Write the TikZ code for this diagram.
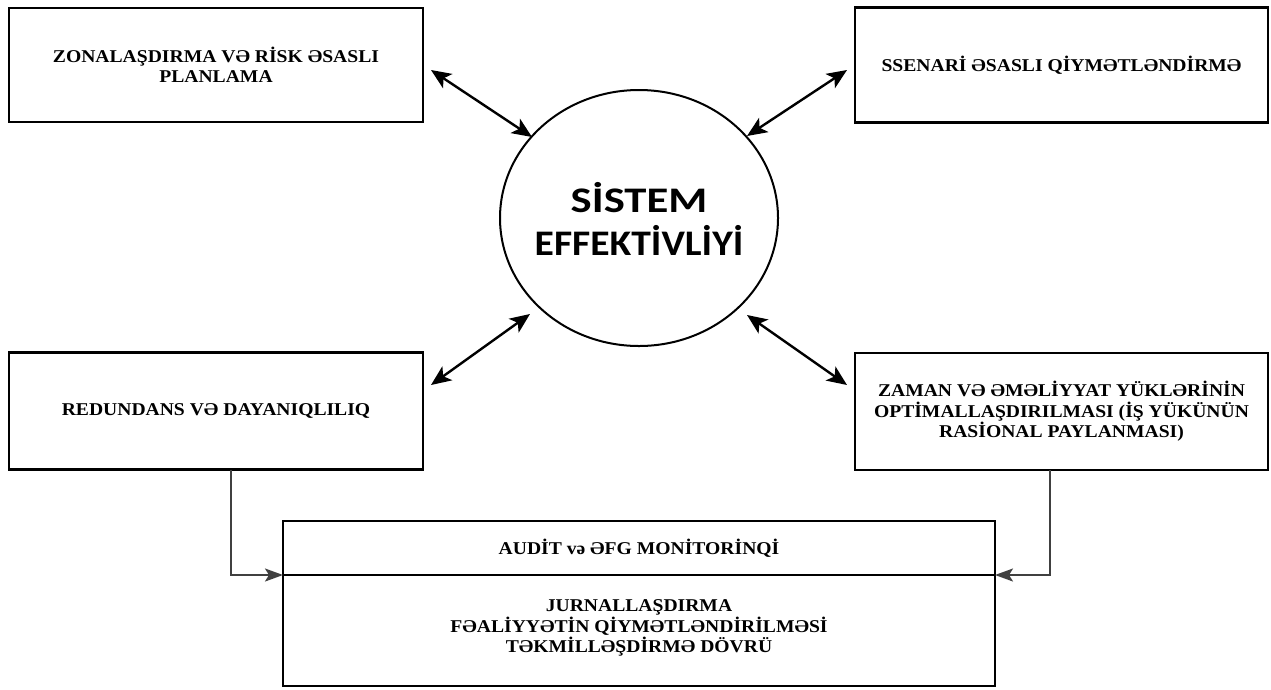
\documentclass[tikz,border=0pt]{standalone}
\usepackage{fontspec}
\newfontfamily\boxfont[FakeStretch=1.09]{Liberation Serif}
\newfontfamily\circfonta[FakeStretch=1.24]{Carlito}
\newfontfamily\circfontb[FakeStretch=1.1]{Carlito}
\usetikzlibrary{arrows.meta,shapes.geometric,calc}
\tikzset{
  box/.style={draw, line width=2.6pt, align=center, inner sep=0pt, outer sep=0pt,
    font=\boxfont\bfseries\fontsize{18}{20.5}\selectfont},
  dbl/.style={line width=2.4pt, {Stealth[length=20pt,width=17pt,inset=5pt]}-{Stealth[length=20pt,width=17pt,inset=5pt]}},
  conn/.style={draw=black!75, line width=2pt, -{Stealth[length=18pt,width=13pt,inset=4pt]}},
}
\begin{document}
\begin{tikzpicture}[x=1pt,y=-1pt]
\useasboundingbox[fill=white] (0,0) rectangle (1271,689);
\node[box, minimum width=414, minimum height=114] (tl) at (216,65) {ZONALAŞDIRMA VƏ RİSK ƏSASLI\\PLANLAMA};
\node[box, minimum width=413, minimum height=115] (tr) at (1061.5,65) {SSENARİ ƏSASLI QİYMƏTLƏNDİRMƏ};
\node[box, minimum width=414, minimum height=117] (bl) at (216,411) {REDUNDANS VƏ DAYANIQLILIQ};
\node[box, minimum width=413, minimum height=117] (br) at (1061.5,411.5) {ZAMAN VƏ ƏMƏLİYYAT YÜKLƏRİNİN\\OPTİMALLAŞDIRILMASI (İŞ YÜKÜNÜN\\RASİONAL PAYLANMASI)};
\node[box, minimum width=712, minimum height=54] (audit) at (639,548) {AUDİT və ƏFG MONİTORİNQİ};
\node[box, minimum width=712, minimum height=111, anchor=north] (low) at (audit.south) {JURNALLAŞDIRMA\\FƏALİYYƏTİN QİYMƏTLƏNDİRİLMƏSİ\\TƏKMİLLƏŞDİRMƏ DÖVRÜ\\[-12pt]};
\node[draw, ellipse, line width=2pt, minimum width=278, minimum height=256, inner sep=0pt,
  font=\bfseries\fontsize{36}{41}\selectfont] (c) at (639,218)
  {\makebox[0pt]{\raisebox{-7pt}[\height][\depth]{\begin{tabular}{@{}c@{}}{\circfonta\bfseries SİSTEM}\\{\circfontb\bfseries EFFEKTİVLİYİ}\end{tabular}}}};
% arrow ends
\coordinate (a1s) at ($(tl.east)+(8,5)$);
\coordinate (a1e) at ($(c.center)+(-107,-81)$);
\coordinate (a2s) at ($(tr.west)+(-8,5)$);
\coordinate (a2e) at ($(c.center)+(108,-82)$);
\coordinate (a3s) at ($(bl.east)+(8,-26)$);
\coordinate (a3e) at ($(c.center)+(-109,96)$);
\coordinate (a4s) at ($(br.west)+(-8,-26.5)$);
\coordinate (a4e) at ($(c.center)+(108,97)$);
\draw[dbl] (a1s) -- (a1e);
\draw[dbl] (a2s) -- (a2e);
\draw[dbl] (a3s) -- (a3e);
\draw[dbl] (a4s) -- (a4e);
\coordinate (lb) at ($(bl.south west)+(222,0)$);
\coordinate (rb) at ($(br.south east)+(-218,0)$);
\draw[conn] (lb) |- (low.north west);
\draw[conn] (rb) |- (low.north east);
\end{tikzpicture}
\end{document}
